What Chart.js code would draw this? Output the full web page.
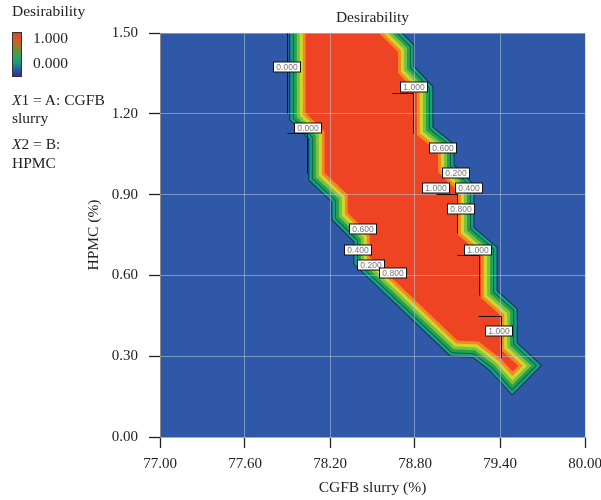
<!DOCTYPE html>
<html>
<head>
<meta charset="utf-8">
<script src="https://cdn.jsdelivr.net/npm/chart.js@4.4.1/dist/chart.umd.min.js"></script>
<style>
    body { margin: 0; background: #fff; }
    #wrap { position: relative; width: 601px; height: 500px; }
    #chart { position: absolute; left: 0; top: 0; }
    .key { position: absolute; font-family: "Liberation Serif", "DejaVu Serif", serif; font-size: 15.5px; line-height: 20px; color: #222; white-space: nowrap; }
    .bar {
        position: absolute; left: 12px; top: 32px; width: 8px; height: 43px;
        border: 1px solid #333;
        background: linear-gradient(to bottom, #ea3f26 0%, #c9632a 22%, #3ea447 50%, #179a7e 70%, #2d4fa6 88%, #3a2d8f 100%);
    }
</style>
</head>
<body>
<div id="wrap">
    <canvas id="chart" width="601" height="500"></canvas>
    <div class="key" style="left:12px; top:1px">Desirability</div>
    <div class="bar"></div>
    <div class="key" style="left:33px; top:28px">1.000</div>
    <div class="key" style="left:33px; top:53px">0.000</div>
    <div class="key" style="left:12px; top:90px"><i>X</i>1 = A: CGFB</div>
    <div class="key" style="left:12px; top:108px">slurry</div>
    <div class="key" style="left:12px; top:134px"><i>X</i>2 = B:</div>
    <div class="key" style="left:12px; top:153px">HPMC</div>
</div>
<script>
// desirability = 1.000 contour (CGFB slurry %, HPMC %)
const contourX = [78.033, 78.033, 78.167, 78.167, 78.330, 78.330, 78.485, 78.485, 79.100, 79.249,
    79.405, 79.489, 79.525, 79.405, 79.405, 79.263, 79.263, 79.100, 79.100, 78.959,
    78.959, 78.810, 78.810, 78.676, 78.676, 78.542, 78.421, 78.344, 78.033]
const contourY = [1.620, 1.203, 1.133, 0.980, 0.899, 0.832, 0.750, 0.668, 0.360, 0.356,
    0.293, 0.245, 0.264, 0.323, 0.449, 0.516, 0.676, 0.750, 0.910, 0.984,
    1.058, 1.121, 1.277, 1.352, 1.430, 1.500, 1.567, 1.620, 1.620]

const xTicks = [77.0, 77.6, 78.2, 78.8, 79.4, 80.0]
const yTicks = [0.0, 0.3, 0.6, 0.9, 1.2, 1.5]

// contour flags
const labelText = ['0.000', '0.000', '1.000', '0.600', '0.200', '1.000', '0.400', '0.800', '1.000', '0.600', '0.400', '0.200', '0.800', '1.000']
const labelX = [77.895, 78.043, 78.793, 79.001, 79.090, 78.948, 79.182, 79.125, 79.245, 78.436, 78.400, 78.489, 78.648, 79.394]
const labelY = [1.372, 1.147, 1.298, 1.073, 0.982, 0.923, 0.923, 0.847, 0.696, 0.774, 0.696, 0.639, 0.609, 0.395]
const leaderLines = [
    [[77.898, 1.500], [77.898, 1.203]],
    [[77.898, 1.129], [78.040, 1.129], [78.040, 0.980]],
    [[78.641, 1.279], [78.789, 1.279], [78.789, 1.129]],
    [[78.945, 0.902], [79.100, 0.902], [79.100, 0.758]],
    [[79.100, 0.676], [79.249, 0.676], [79.249, 0.527]],
    [[79.242, 0.449], [79.404, 0.449], [79.404, 0.297]]
]

// bands from 0.8-1.0 outwards to the 0.000 line
const bandColors = ['#f5891f', '#cbd92c', '#7dc142', '#23a44b', '#0e5e4c', '#13a08a', '#1b2f44']
const bandWidths = [7, 13, 19, 25, 27, 32, 34]
const fillRed = '#ee4424'

const serif = '"Liberation Serif", "DejaVu Serif", serif'
const tickFont = { family: serif, size: 15 }
const titleFont = { family: serif, size: 15.5 }
const gridColor = 'rgba(185, 200, 220, 0.55)'

const points = contourX.map((x, i) => ({ x, y: contourY[i] }))

const datasets = [{
    data: points,
    showLine: true,
    fill: 'shape',
    backgroundColor: fillRed,
    borderColor: fillRed,
    borderWidth: 1,
    pointRadius: 0,
    clip: 0
}]
bandColors.forEach((color, i) => {
    datasets.push({
        data: points,
        showLine: true,
        fill: false,
        borderColor: color,
        borderWidth: bandWidths[i],
        borderJoinStyle: 'miter',
        pointRadius: 0,
        clip: 0
    })
})

const plotBackground = {
    id: 'plotBackground',
    beforeDraw(chart) {
        const { ctx, chartArea: a } = chart
        ctx.save()
        ctx.fillStyle = '#2f59a8'
        ctx.fillRect(a.left, a.top, a.width, a.height)
        ctx.restore()
    }
}

const contourLabels = {
    id: 'contourLabels',
    afterDraw(chart) {
        const { ctx, scales: { x, y } } = chart
        ctx.save()
        ctx.strokeStyle = '#111'
        ctx.lineWidth = 1
        leaderLines.forEach(line => {
            ctx.beginPath()
            line.forEach(([lx, ly], i) => {
                const px = Math.round(x.getPixelForValue(lx)) + 0.5
                const py = Math.round(y.getPixelForValue(ly)) + 0.5
                if (i === 0) ctx.moveTo(px, py)
                else ctx.lineTo(px, py)
            })
            ctx.stroke()
        })

        ctx.font = '8.5px "Liberation Sans", Arial, sans-serif'
        ctx.textAlign = 'center'
        ctx.textBaseline = 'middle'
        labelText.forEach((text, i) => {
            const cx = Math.round(x.getPixelForValue(labelX[i]))
            const cy = Math.round(y.getPixelForValue(labelY[i]))
            ctx.fillStyle = '#fff'
            ctx.fillRect(cx - 13.5, cy - 5, 27, 10)
            ctx.strokeStyle = '#111'
            ctx.strokeRect(cx - 13.5, cy - 5, 27, 10)
            ctx.fillStyle = '#777'
            ctx.fillText(text, cx, cy + 0.5)
        })
        ctx.restore()
    }
}

new Chart(document.getElementById('chart'), {
    type: 'scatter',
    data: { datasets },
    plugins: [plotBackground, contourLabels],
    options: {
        responsive: false,
        animation: false,
        events: [],
        layout: { padding: { left: 80, right: 16, top: 0, bottom: 0 } },
        plugins: {
            legend: { display: false },
            tooltip: { enabled: false },
            title: {
                display: true,
                text: 'Desirability',
                fullSize: false,
                font: { family: serif, size: 15.5, weight: 'normal' },
                color: '#222',
                padding: { top: 9, bottom: 5.4 }
            }
        },
        scales: {
            x: {
                type: 'linear',
                min: 77,
                max: 80,
                afterBuildTicks: scale => { scale.ticks = xTicks.map(value => ({ value })) },
                afterFit: scale => { scale.height = 63; scale.paddingLeft = 0; scale.paddingRight = 0 },
                ticks: { callback: v => v.toFixed(2), font: tickFont, color: '#222', padding: 7, maxRotation: 0, autoSkip: false },
                grid: { color: gridColor, z: 1, tickColor: '#222', tickLength: 11, tickWidth: 1.3 },
                border: { color: '#8a8a8a', width: 1, z: 1 },
                title: { display: true, text: 'CGFB slurry (%)', font: titleFont, color: '#222', padding: { top: 0, bottom: 3 } }
            },
            y: {
                type: 'linear',
                min: 0,
                max: 1.5,
                afterBuildTicks: scale => { scale.ticks = yTicks.map(value => ({ value })) },
                afterFit: scale => { scale.width = 80; scale.paddingTop = 0; scale.paddingBottom = 0 },
                ticks: { callback: v => v.toFixed(2), font: tickFont, color: '#222', padding: 11, autoSkip: false },
                grid: { color: gridColor, z: 1, tickColor: '#222', tickLength: 11, tickWidth: 1.3 },
                border: { color: '#8a8a8a', width: 1, z: 1 },
                title: { display: true, text: 'HPMC (%)', font: titleFont, color: '#222', padding: { top: 5, bottom: 0 } }
            }
        }
    }
})
</script>
</body>
</html>
